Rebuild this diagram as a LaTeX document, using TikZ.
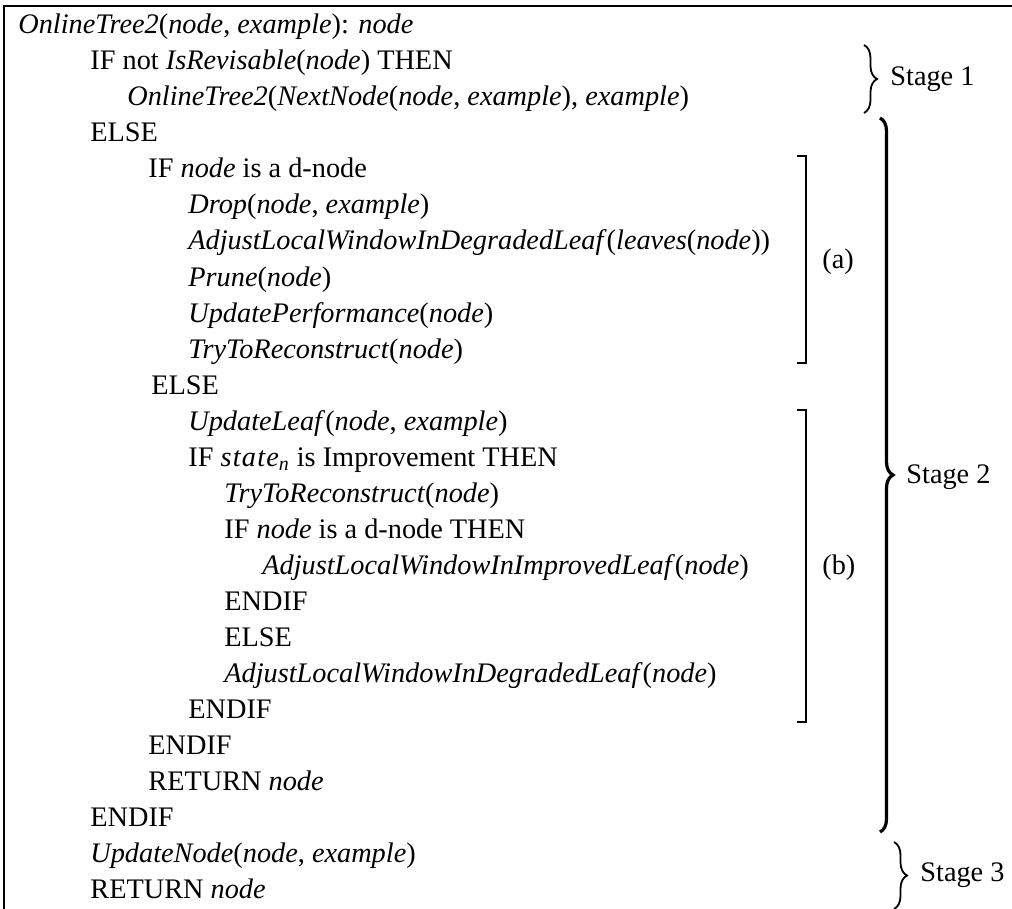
\documentclass[tikz,border=0pt]{standalone}
\usepackage{fontspec}
\setmainfont{Liberation Serif}
\usetikzlibrary{decorations.pathreplacing}
\begin{document}
\begin{tikzpicture}[
  x=0.5pt, y=-0.5pt,
  code/.style={anchor=base west, inner sep=0pt, font=\fontsize{14.15}{18}\selectfont},
  label/.style={anchor=west, inner sep=0pt, font=\fontsize{14.15}{18}\selectfont},
  frame/.style={line width=1.3pt},
  bracket/.style={line width=1pt},
  stage/.style={decorate, decoration={brace, amplitude=6.5pt}, line width=0.9pt},
  bigstage/.style={decorate, decoration={brace, amplitude=6.5pt}, line width=1.6pt}
]
\useasboundingbox (0,0) rectangle (1012,909);
\draw[frame] (4,909) -- (4,6) -- (1012,6);

\node[code] (l1) at (18,34) {\textit{OnlineTree2}(\textit{node}, \textit{example}): \textit{node}};
\node[code] (l2) at (90,70) {IF not \textit{IsRevisable}(\textit{node}) THEN};
\node[code] (l3) at (127,106) {\textit{OnlineTree2}(\textit{NextNode}(\textit{node}, \textit{example}), \textit{example})};
\node[code] (l4) at (90,142) {ELSE};
\node[code] (l5) at (148,178) {IF \textit{node} is a d-node};
\node[code] (l6) at (188,214) {\textit{Drop}(\textit{node}, \textit{example})};
\node[code] (l7) at (188,250) {\textit{AdjustLocalWindowInDegradedLeaf}(\textit{leaves}(\textit{node}))};
\node[code] (l8) at (188,286) {\textit{Prune}(\textit{node})};
\node[code] (l9) at (188,322) {\textit{UpdatePerformance}(\textit{node})};
\node[code] (l10) at (188,358) {\textit{TryToReconstruct}(\textit{node})};
\node[code] (l11) at (151,394) {ELSE};
\node[code] (l12) at (188,430) {\textit{UpdateLeaf}(\textit{node}, \textit{example})};
\node[code] (l13) at (188,466) {IF \textit{s\kern.6pt t\kern.6pt a\kern.6pt t\kern.6pt e}\textsubscript{\textit{n}} is Improvement THEN};
\node[code] (l14) at (224,502) {\textit{TryToReconstruct}(\textit{node})};
\node[code] (l15) at (224,538) {IF \textit{node} is a d-node THEN};
\node[code] (l16) at (262,574) {\textit{AdjustLocalWindowInImprovedLeaf}(\textit{node})};
\node[code] (l17) at (224,610) {ENDIF};
\node[code] (l18) at (224,646) {ELSE};
\node[code] (l19) at (224,682) {\textit{AdjustLocalWindowInDegradedLeaf}(\textit{node})};
\node[code] (l20) at (188,718) {ENDIF};
\node[code] (l21) at (148,754) {ENDIF};
\node[code] (l22) at (148,790) {RETURN \textit{node}};
\node[code] (l23) at (90,826) {ENDIF};
\node[code] (l24) at (90,862) {\textit{UpdateNode}(\textit{node}, \textit{example})};
\node[code] (l25) at (90,898) {RETURN \textit{node}};

\coordinate (s1top) at (864,45);
\coordinate (s1bot) at (864,113);
\coordinate (s2top) at (880,118);
\coordinate (s2bot) at (880,832);
\coordinate (s3top) at (894,842);
\coordinate (s3bot) at (894,909);
\draw[stage] (s1top) -- (s1bot);
\draw[bigstage] (s2top) -- (s2bot);
\draw[stage] (s3top) -- (s3bot);
\node[label] (st1) at (890,79) {Stage 1};
\node[label] (st2) at (906,477) {Stage 2};
\node[label] (st3) at (920,875) {Stage 3};

\draw[bracket] (797,156) -- (806,156) -- (806,363) -- (797,363);
\draw[bracket] (797,410) -- (806,410) -- (806,722) -- (797,722);
\node[label] (pa) at (822,262) {(a)};
\node[label] (pb) at (822,568) {(b)};
\end{tikzpicture}
\end{document}
